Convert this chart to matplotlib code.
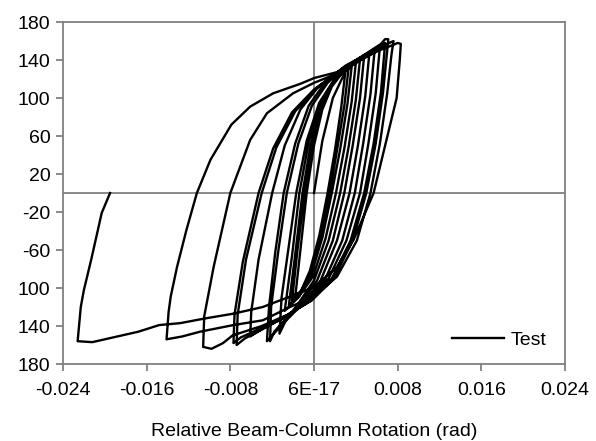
import numpy as np
import matplotlib
matplotlib.use("Agg")
import matplotlib.pyplot as plt

plt.rcParams['font.family'] = ['Liberation Sans', 'DejaVu Sans']

# loading path, one list pair per half cycle (rotation in rad, moment)
rot_start = [0.0, 0.0008, 0.0018, 0.0030]
mom_start = [0, 55, 100, 128]

rot_d01 = [0.0030, 0.0026, 0.0020, 0.0013, 0.0005, -0.0004, -0.0012, -0.0018]
mom_d01 = [128, 90, 45, 0, -45, -82, -102, -110]
rot_u02 = [-0.0018, -0.0013, -0.0007, 0.0, 0.0008, 0.0017, 0.0026, 0.0033]
mom_u02 = [-110, -60, 0, 50, 88, 112, 125, 131]

rot_d02 = [0.0033, 0.0029, 0.0022, 0.0015, 0.0007, -0.0003, -0.0013, -0.0021]
mom_d02 = [131, 92, 45, 0, -45, -84, -105, -113]
rot_u03 = [-0.0021, -0.0016, -0.0009, -0.0002, 0.0007, 0.0017, 0.0027, 0.0036]
mom_u03 = [-113, -62, 0, 50, 90, 114, 127, 133]

rot_d03 = [0.0036, 0.0032, 0.0025, 0.0017, 0.0008, -0.0003, -0.0014, -0.0024]
mom_d03 = [133, 94, 46, 0, -47, -87, -108, -118]
rot_u04 = [-0.0024, -0.0018, -0.0011, -0.0003, 0.0007, 0.0018, 0.0029, 0.0040]
mom_u04 = [-118, -65, 0, 52, 92, 116, 130, 137]

rot_d04 = [0.0040, 0.0036, 0.0029, 0.0021, 0.0011, -0.0001, -0.0015, -0.0028]
mom_d04 = [137, 96, 47, 0, -48, -88, -110, -124]
rot_u05 = [-0.0028, -0.0021, -0.0014, -0.0005, 0.0006, 0.0019, 0.0032, 0.0044]
mom_u05 = [-124, -66, 0, 54, 94, 118, 132, 141]

rot_d05 = [0.0044, 0.0040, 0.0033, 0.0025, 0.0014, 0.0, -0.0016, -0.0026, -0.0033]
mom_d05 = [141, 98, 48, 0, -50, -92, -118, -132, -148]
rot_u06 = [-0.0033, -0.0031, -0.0024, -0.0017, -0.0007, 0.0005, 0.0019, 0.0034, 0.0048]
mom_u06 = [-148, -110, -55, 0, 55, 95, 119, 135, 145]

rot_d06 = [0.0048, 0.0044, 0.0037, 0.0029, 0.0018, 0.0003, -0.0014, -0.0030, -0.0038, -0.0042]
mom_d06 = [145, 100, 50, 0, -50, -92, -118, -136, -146, -156]
rot_u07 = [-0.0042, -0.0041, -0.0034, -0.0026, -0.0015, -0.0002, 0.0013, 0.0030, 0.0053]
mom_u07 = [-156, -120, -60, 0, 52, 92, 116, 133, 148]

rot_d07 = [0.0053, 0.0049, 0.0042, 0.0034, 0.0022, 0.0006, -0.0012, -0.0030, -0.0040, -0.0045]
mom_d07 = [148, 102, 50, 0, -50, -93, -118, -138, -150, -156]
rot_u08 = [-0.0045, -0.0043, -0.0037, -0.0029, -0.0018, -0.0005, 0.0011, 0.0030, 0.0058]
mom_u08 = [-156, -120, -62, 0, 52, 92, 117, 134, 151]

rot_d08 = [0.0058, 0.0054, 0.0047, 0.0039, 0.0027, 0.0011, -0.0008, -0.0030, -0.0048, -0.0061]
mom_d08 = [151, 104, 52, 0, -50, -90, -116, -132, -142, -151]
rot_u09 = [-0.0061, -0.0060, -0.0053, -0.0040, -0.0028, -0.0013, 0.0005, 0.0027, 0.0045, 0.0063]
mom_u09 = [-151, -125, -70, 0, 50, 88, 113, 131, 143, 154]

rot_d09 = [0.0063, 0.0059, 0.0052, 0.0044, 0.0031, 0.0014, -0.0006, -0.0030, -0.0052, -0.0066, -0.0074]
mom_d09 = [154, 105, 52, 0, -50, -90, -115, -132, -145, -153, -160]
rot_u10 = [-0.0074, -0.0073, -0.0065, -0.0050, -0.0036, -0.0018, 0.0002, 0.0025, 0.0045, 0.0068]
mom_u10 = [-160, -128, -70, 0, 48, 86, 110, 128, 143, 158]

rot_d10 = [0.0068, 0.0064, 0.0057, 0.0048, 0.0035, 0.0017, -0.0004, -0.0028, -0.0052, -0.0070, -0.0077]
mom_d10 = [158, 106, 52, 0, -50, -90, -114, -130, -143, -152, -158]
rot_u11 = [-0.0077, -0.0076, -0.0068, -0.0053, -0.0039, -0.0021, 0.0, 0.0024, 0.0046, 0.0064, 0.0068, 0.0071]
mom_u11 = [-158, -128, -72, 0, 47, 85, 109, 127, 144, 157, 162, 162]

rot_d11 = [0.0071, 0.0070, 0.0066, 0.0059, 0.0050, 0.0037, 0.0019, -0.0002, -0.0025, -0.0050,
           -0.0078, -0.0087, -0.0098, -0.0106]
mom_d11 = [162, 150, 106, 52, 0, -50, -90, -113, -128, -140, -150, -158, -164, -162]
rot_u12 = [-0.0106, -0.0105, -0.0096, -0.0088, -0.0080, -0.0061, -0.0045, -0.0020, 0.0,
           0.0025, 0.0045, 0.0062, 0.0072, 0.0076]
mom_u12 = [-162, -130, -78, -39, 0, 56, 84, 105, 116, 127, 140, 151, 158, 160]

rot_d12 = [0.0076, 0.0074, 0.0070, 0.0063, 0.0054, 0.0041, 0.0022, 0.0, -0.0023, -0.0049,
           -0.0077, -0.0109, -0.0126, -0.0141]
mom_d12 = [160, 145, 105, 52, 0, -50, -88, -109, -120, -134, -139, -146, -151, -154]
rot_u13 = [-0.0141, -0.0139, -0.0137, -0.0131, -0.0122, -0.0112, -0.0099, -0.0079, -0.0061,
           -0.0039, -0.0013, 0.0, 0.0028, 0.0044, 0.0062, 0.0076, 0.0080, 0.0083]
mom_u13 = [-154, -125, -109, -78, -39, 0, 35, 72, 91, 105, 115, 121, 129, 140, 150, 156, 158, 157]

rot_d13 = [0.0083, 0.0082, 0.0079, 0.0068, 0.0057, 0.0050, 0.0038, 0.0022, 0.0, -0.0023,
           -0.0049, -0.0077, -0.0104, -0.0128, -0.0148, -0.0168, -0.0200, -0.0212, -0.0226]
mom_d13 = [157, 140, 100, 50, 0, -18, -49, -78, -99, -109, -120, -127, -132, -137, -139,
           -146, -154, -157, -156]
rot_end = [-0.0226, -0.0223, -0.0220, -0.0213, -0.0203, -0.0195]
mom_end = [-156, -120, -102, -70, -21, 0]

x_ticks = [-0.024, -0.016, -0.008, 0.0, 0.008, 0.016, 0.024]
x_labels = ["-0.024", "-0.016", "-0.008", "6E-17", "0.008", "0.016", "0.024"]
y_ticks = [180, 140, 100, 60, 20, -20, -60, -100, -140, -180]
y_labels = ["180", "140", "100", "60", "20", "-20", "-60", "100", "140", "180"]

rot = np.concatenate([rot_start, rot_d01, rot_u02, rot_d02, rot_u03, rot_d03, rot_u04,
                      rot_d04, rot_u05, rot_d05, rot_u06, rot_d06, rot_u07, rot_d07,
                      rot_u08, rot_d08, rot_u09, rot_d09, rot_u10, rot_d10, rot_u11,
                      rot_d11, rot_u12, rot_d12, rot_u13, rot_d13, rot_end])
mom = np.concatenate([mom_start, mom_d01, mom_u02, mom_d02, mom_u03, mom_d03, mom_u04,
                      mom_d04, mom_u05, mom_d05, mom_u06, mom_d06, mom_u07, mom_d07,
                      mom_u08, mom_d08, mom_u09, mom_d09, mom_u10, mom_d10, mom_u11,
                      mom_d11, mom_u12, mom_d12, mom_u13, mom_d13, mom_end])

grey = "#808080"
fs = 14
fig = plt.figure(figsize=(5.96, 4.41), dpi=100)
ax = fig.add_axes([0.1057, 0.1746, 0.8423, 0.7754])

ax.axhline(0, color=grey, lw=1.3, zorder=1)
ax.axvline(0, color=grey, lw=1.3, zorder=1)
ax.plot(rot, mom, color="black", lw=1.7, label="Test", zorder=3)

ax.set_xlim(-0.024, 0.024)
ax.set_ylim(-180, 180)
ax.set_xticks(x_ticks)
ax.set_xticklabels(x_labels)
ax.set_yticks(y_ticks)
ax.set_yticklabels(y_labels)
for s in ax.spines.values():
    s.set_color(grey)
    s.set_linewidth(1.3)
ax.tick_params(direction="out", length=5, width=1.3, color=grey, labelsize=fs,
               labelcolor="black")
ax.tick_params(axis="x", pad=8)
ax.tick_params(axis="y", pad=4)

ax.set_xlabel("Relative Beam-Column Rotation (rad)", fontsize=fs, labelpad=17)
ax.legend(loc="lower right", frameon=False, fontsize=fs, handlelength=2.7,
          handletextpad=0.3, bbox_to_anchor=(0.997, -0.007))

fig.savefig("out.png", dpi=100)
